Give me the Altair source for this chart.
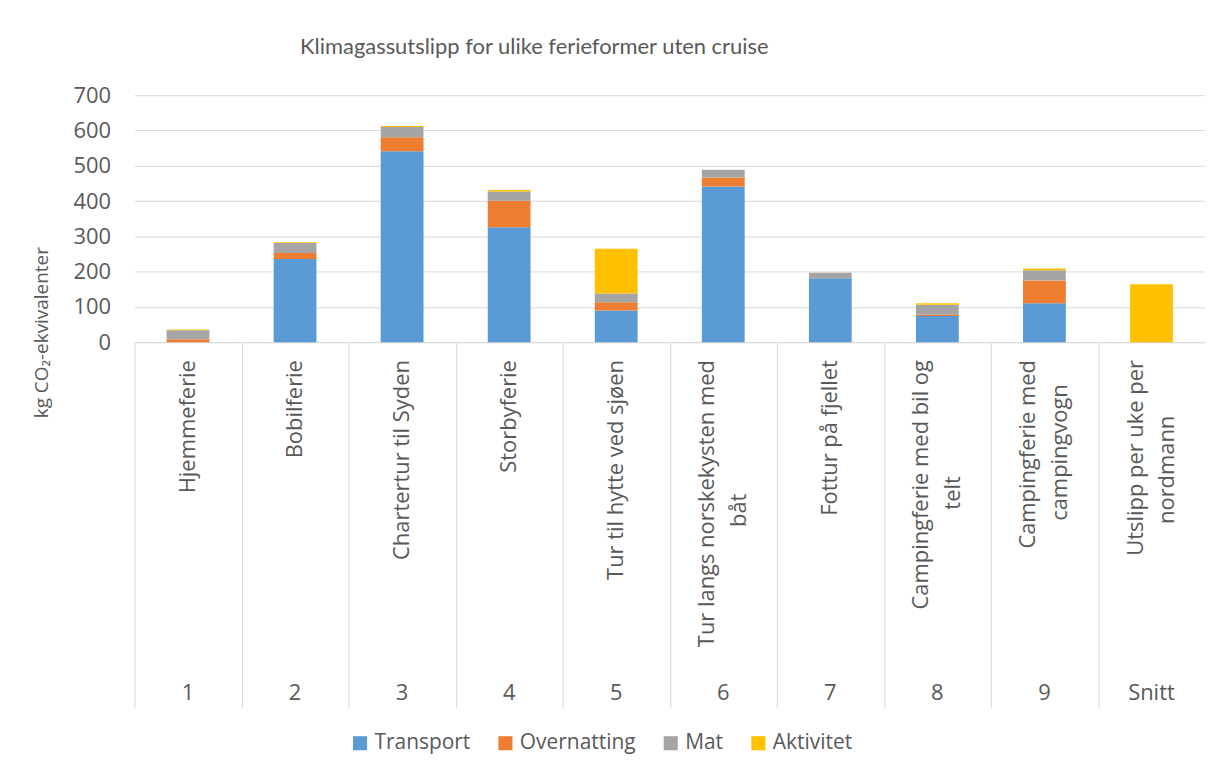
import altair as alt
import pandas as pd

# ---- data ----
nr = ["1", "2", "3", "4", "5", "6", "7", "8", "9", "Snitt"]
line1 = ["Hjemmeferie", "Bobilferie", "Chartertur til Syden", "Storbyferie",
         "Tur til hytte ved sjøen", "Tur langs norskekysten med", "Fottur på fjellet",
         "Campingferie med bil og", "Campingferie med", "Utslipp per uke per"]
line2 = ["", "", "", "", "", "båt", "", "telt", "campingvogn", "nordmann"]
series = ["Transport", "Overnatting", "Mat", "Aktivitet"]
transport = [0, 236, 541, 326, 90, 441, 181, 74, 110, 0]
overnatting = [8, 17, 40, 75, 23, 26, 0, 4, 65, 0]
mat = [26, 28, 29, 26, 25, 22, 16, 28, 29, 0]
aktivitet = [2, 2, 3, 4, 127, 0, 0, 4, 5, 164]
colors = ["#5B9BD5", "#ED7D31", "#A5A5A5", "#FFC000"]
y_ticks = [0, 100, 200, 300, 400, 500, 600, 700]

rows = []
for k, (s, vals) in enumerate(zip(series, [transport, overnatting, mat, aktivitet])):
    for n, v in zip(nr, vals):
        rows.append({"nr": n, "serie": s, "verdi": v, "k": k})
df = pd.DataFrame(rows)
lab = pd.DataFrame({"nr": nr, "line1": line1, "line2": line2})

F = "Open Sans"
TXT = "#595959"
GRID = "#d9d9d9"
W = 1075

bars = alt.Chart(df).mark_bar(width=alt.RelativeBandSize(0.4)).encode(
    x=alt.X("nr:N", sort=nr, scale=alt.Scale(paddingInner=0, paddingOuter=0),
            axis=alt.Axis(labels=False, ticks=False, title=None, grid=False,
                          domainColor=GRID, domainWidth=1)),
    y=alt.Y("verdi:Q", stack="zero", scale=alt.Scale(domain=[0, 700], nice=False),
            axis=alt.Axis(values=y_ticks, title="kg CO₂-ekvivalenter", domain=False, ticks=False,
                          gridColor=GRID, labelFont=F, labelFontSize=22, labelColor=TXT,
                          labelPadding=24, titleFont=F, titleFontSize=19, titleColor=TXT,
                          titleFontWeight="normal", titleAngle=270, titleX=-93, titleY=238,
                          titleAlign="center", titleBaseline="middle")),
    color=alt.Color("serie:N", sort=series, scale=alt.Scale(domain=series, range=colors),
                    legend=alt.Legend(title=None, orient="none", legendX=216, legendY=640,
                                      direction="horizontal", symbolType="square",
                                      symbolSize=200, symbolStrokeWidth=0, labelFont=F,
                                      labelFontSize=21, labelColor=TXT, columnPadding=24,
                                      labelOffset=4)),
    order=alt.Order("k:Q", sort="ascending"),
).properties(width=W, height=248)

xb = alt.X("nr:N", sort=nr, scale=alt.Scale(paddingInner=0, paddingOuter=0),
           axis=alt.Axis(labels=False, ticks=False, domain=False, title=None, grid=True,
                         gridColor=GRID, tickBand="extent"))
base = alt.Chart(lab).encode(x=xb)
tstyle = dict(angle=270, font=F, fontSize=22, color=TXT, baseline="middle")

single = base.transform_filter("datum.line2 == ''").mark_text(align="right", **tstyle).encode(
    y=alt.value(18), text="line1:N")
first = base.transform_filter("datum.line2 != ''").mark_text(align="right", dy=-16, **tstyle).encode(
    y=alt.value(18), text="line1:N")
second = base.transform_filter("datum.line2 != ''").transform_calculate(
    ly="18 + length(datum.line1) * 5.8").mark_text(align="center", dy=16, **tstyle).encode(
    y=alt.Y("ly:Q", scale=None, axis=None), text="line2:N")
nums = base.mark_text(align="center", baseline="middle", font=F, fontSize=22, color=TXT).encode(
    y=alt.value(352), text="nr:N")

bottom = alt.layer(single, first, second, nums).properties(width=W, height=367)

chart = alt.vconcat(bars, bottom, spacing=0, bounds="flush").properties(
    title=alt.TitleParams("Klimagassutslipp for ulike ferieformer uten cruise", font="Lato",
                          fontSize=22, fontWeight="normal", color=TXT, anchor="middle", dx=-85,
                          offset=25),
    padding={"left": 25, "top": 27, "right": 0, "bottom": 0},
).configure_view(strokeWidth=0)

chart.save("out.html", embed_options={"renderer": "svg", "actions": False})
